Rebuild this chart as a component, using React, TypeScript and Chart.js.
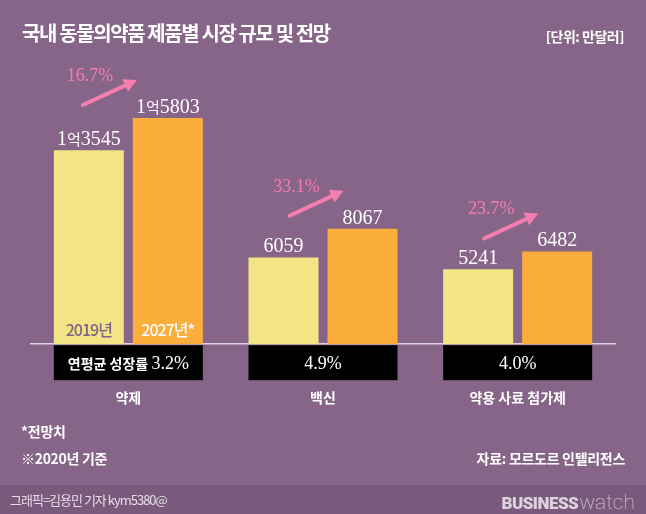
import React, { useEffect, useRef } from 'react';
import { Chart, registerables } from 'chart.js';

Chart.register(...registerables);

// ---- data ----
const categories = ['약제', '백신', '약용 사료 첨가제'];
const seriesNames = ['2019년', '2027년*'];
const values2019 = [13545, 6059, 5241];
const values2027 = [15803, 8067, 6482];
const growthRates = ['16.7%', '33.1%', '23.7%'];
const cagrRates = ['3.2%', '4.9%', '4.0%'];
const cagrPrefix = '연평균 성장률 ';
const yMax = 20000;

// ---- styles ----
const BG = '#876589';
const FOOTER_BG = '#7a5a7c';
const YELLOW = '#f3e585';
const ORANGE = '#fbae3b';
const PINK = '#f47fae';
const SANS = '"Noto Sans CJK KR", "Noto Sans", sans-serif';
const SERIF = '"Liberation Serif", "DejaVu Serif", serif';

type Seg = { text: string; font: string };

function setSpacing(ctx: any, v: string) {
  if ('letterSpacing' in ctx) ctx.letterSpacing = v;
}

function drawSegs(ctx: CanvasRenderingContext2D, segs: Seg[], cx: number, baseline: number, color: string) {
  let total = 0;
  const widths = segs.map((s) => {
    ctx.font = s.font;
    const w = ctx.measureText(s.text).width;
    total += w;
    return w;
  });
  let x = cx - total / 2;
  ctx.fillStyle = color;
  ctx.textAlign = 'left';
  ctx.textBaseline = 'alphabetic';
  segs.forEach((s, i) => {
    ctx.font = s.font;
    ctx.fillText(s.text, x, baseline);
    x += widths[i];
  });
  return total;
}

function valueSegs(v: number): Seg[] {
  const serif = `20px ${SERIF}`;
  if (v >= 10000) {
    return [
      { text: String(Math.floor(v / 10000)), font: serif },
      { text: '억', font: `15px ${SANS}` },
      { text: String(v % 10000).padStart(4, '0'), font: serif },
    ];
  }
  return [{ text: String(v), font: serif }];
}

function segsWidth(ctx: CanvasRenderingContext2D, segs: Seg[]) {
  let t = 0;
  segs.forEach((s) => {
    ctx.font = s.font;
    t += ctx.measureText(s.text).width;
  });
  return t;
}

const overlayPlugin = {
  id: 'overlay',
  afterDatasetsDraw(chart: any) {
    const ctx: CanvasRenderingContext2D = chart.ctx;
    const area = chart.chartArea;
    const m0 = chart.getDatasetMeta(0);
    const m1 = chart.getDatasetMeta(1);
    ctx.save();
    categories.forEach((_, i) => {
      const b0 = m0.data[i];
      const b1 = m1.data[i];
      const left = b0.x - b0.width / 2;
      const right = b1.x + b1.width / 2;

      // black CAGR box
      ctx.fillStyle = '#000';
      ctx.fillRect(left, area.bottom + 1, right - left, 35);
      const segs: Seg[] = [];
      if (i === 0) segs.push({ text: cagrPrefix, font: `bold 14px ${SANS}` });
      segs.push({ text: cagrRates[i], font: `18px ${SERIF}` });
      drawSegs(ctx, segs, (left + right) / 2, area.bottom + 25, '#ffffff');

      // value labels
      const s0 = valueSegs(values2019[i]);
      const s1 = valueSegs(values2027[i]);
      drawSegs(ctx, s0, b0.x, b0.y - 5, '#ffffff');
      drawSegs(ctx, s1, b1.x, b1.y - 5, '#ffffff');

      // growth arrow
      const lw = segsWidth(ctx, s1);
      const hx = b1.x - lw / 2 + 1;
      const hy = b1.y - 38;
      const tx = hx - 54;
      const ty = hy + 25;
      const ang = Math.atan2(hy - ty, hx - tx);
      const cos = Math.cos(ang);
      const sin = Math.sin(ang);
      const headLen = 13;
      const headW = 7;
      const bx = hx - headLen * cos;
      const by = hy - headLen * sin;
      ctx.strokeStyle = PINK;
      ctx.fillStyle = PINK;
      ctx.lineWidth = 4;
      ctx.lineCap = 'round';
      ctx.beginPath();
      ctx.moveTo(tx, ty);
      ctx.lineTo(bx + cos * 2, by + sin * 2);
      ctx.stroke();
      ctx.beginPath();
      ctx.moveTo(hx, hy);
      ctx.lineTo(bx - headW * sin, by + headW * cos);
      ctx.lineTo(bx + headW * sin, by - headW * cos);
      ctx.closePath();
      ctx.fill();
      ctx.font = `18px ${SERIF}`;
      ctx.textAlign = 'center';
      ctx.textBaseline = 'alphabetic';
      ctx.fillText(growthRates[i], tx + 7, hy + 1);

      // series labels inside first group's bars
      if (i === 0) {
        ctx.font = `500 16px ${SANS}`;
        setSpacing(ctx, '-1px');
        ctx.textAlign = 'center';
        ctx.fillStyle = '#80618a';
        ctx.fillText(seriesNames[0], b0.x, area.bottom - 8);
        ctx.fillStyle = '#ffffff';
        ctx.fillText(seriesNames[1], b1.x, area.bottom - 8);
        setSpacing(ctx, '0px');
      }
    });
    ctx.restore();
  },
};

function ChartCanvas() {
  const ref = useRef<HTMLCanvasElement | null>(null);
  useEffect(() => {
    if (!ref.current) return;
    const chart = new Chart(ref.current, {
      type: 'bar',
      data: {
        labels: categories,
        datasets: [
          {
            label: seriesNames[0],
            data: values2019,
            backgroundColor: YELLOW,
            borderWidth: 0,
            categoryPercentage: 0.8116,
            barPercentage: 0.886,
          },
          {
            label: seriesNames[1],
            data: values2027,
            backgroundColor: ORANGE,
            borderWidth: 0,
            categoryPercentage: 0.8116,
            barPercentage: 0.886,
          },
        ],
      },
      options: {
        responsive: false,
        animation: false,
        devicePixelRatio: 1,
        layout: { padding: { left: 31, right: 31, top: 58, bottom: 63 } },
        plugins: {
          legend: { display: false },
          tooltip: { enabled: false },
        },
        scales: {
          x: {
            display: true,
            grid: { display: false, drawTicks: false, tickLength: 0 },
            border: { display: true, color: '#ddd2de', width: 1.5 },
            ticks: {
              color: '#ffffff',
              padding: 45,
              font: { family: SANS, weight: 'bold', size: 14 },
            },
          },
          y: {
            display: false,
            min: 0,
            max: yMax,
          },
        },
      },
      plugins: [overlayPlugin],
    } as any);
    return () => chart.destroy();
  }, []);
  return (
    <canvas
      ref={ref}
      width={646}
      height={514}
      style={{ position: 'absolute', left: 0, top: 0, width: 646, height: 514 }}
    />
  );
}

const txt = (extra: React.CSSProperties): React.CSSProperties => ({
  position: 'absolute',
  fontFamily: SANS,
  whiteSpace: 'nowrap',
  lineHeight: 1,
  color: '#ffffff',
  ...extra,
});

export default function App() {
  return (
    <div
      style={{
        position: 'absolute',
        left: 0,
        top: 0,
        width: 646,
        height: 514,
        background: BG,
        overflow: 'hidden',
      }}
    >
      <div style={{ position: 'absolute', left: 0, top: 485, width: 646, height: 29, background: FOOTER_BG }} />
      <ChartCanvas />
      <div style={txt({ left: 22, top: 23, fontSize: 20, fontWeight: 700, letterSpacing: -1.4 })}>
        국내 동물의약품 제품별 시장 규모 및 전망
      </div>
      <div style={txt({ right: 22, top: 29, fontSize: 14, fontWeight: 700, letterSpacing: -0.5 })}>
        [단위: 만달러]
      </div>
      <div style={txt({ left: 21, top: 424, fontSize: 14, fontWeight: 700, letterSpacing: -0.3 })}>*전망치</div>
      <div style={txt({ left: 21, top: 451, fontSize: 14, fontWeight: 700, letterSpacing: -0.3 })}>※2020년 기준</div>
      <div style={txt({ right: 21, top: 451, fontSize: 14, fontWeight: 700, letterSpacing: -0.3 })}>
        자료: 모르도르 인텔리전스
      </div>
      <div style={txt({ left: 10, top: 493, fontSize: 13, color: '#e6dce6', letterSpacing: -1 })}>
        그래픽=김용민 기자 kym5380@
      </div>
      <div style={txt({ right: 11, top: 492, fontSize: 17, color: '#ddd3de', fontFamily: 'Roboto, "DejaVu Sans", sans-serif' })}>
        <span style={{ fontWeight: 900, letterSpacing: -0.5 }}>BUSINESS</span>
        <span style={{ fontWeight: 100, fontSize: 21, marginLeft: 1 }}>watch</span>
      </div>
    </div>
  );
}
